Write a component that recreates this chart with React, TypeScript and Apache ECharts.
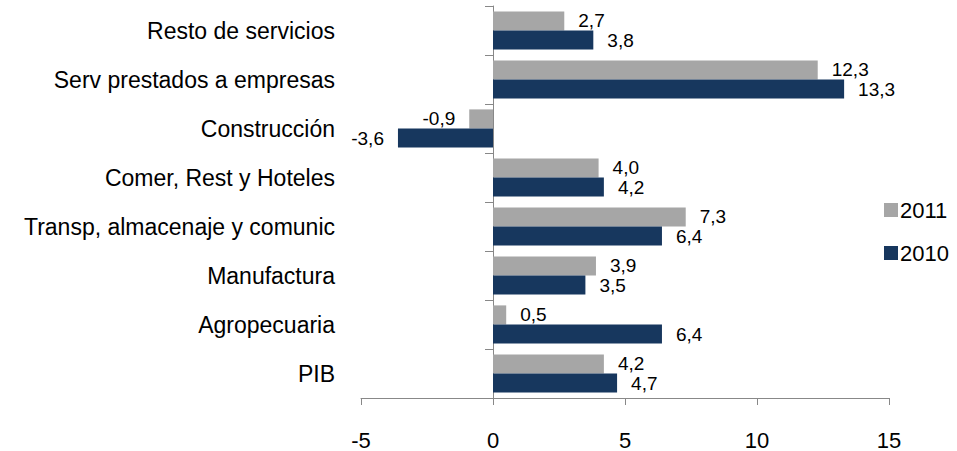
import React, { useEffect, useRef } from "react";
import * as echarts from "echarts";

const categories = [
  "PIB",
  "Agropecuaria",
  "Manufactura",
  "Transp, almacenaje y comunic",
  "Comer, Rest y Hoteles",
  "Construcción",
  "Serv prestados a empresas",
  "Resto de servicios",
];
const values2011 = [4.2, 0.5, 3.9, 7.3, 4.0, -0.9, 12.3, 2.7];
const values2010 = [4.7, 6.4, 3.5, 6.4, 4.2, -3.6, 13.3, 3.8];
const xTicks = { min: -5, max: 15, interval: 5 };

const FONT = "Liberation Sans";

const fmt = (v: number) => v.toFixed(1).replace(".", ",");

const toData = (arr: number[]) =>
  arr.map((v) => ({ value: v, label: v < 0 ? { position: "left" } : undefined }));

export default function App() {
  const ref = useRef<HTMLDivElement>(null);
  useEffect(() => {
    if (!ref.current) return;
    const chart = echarts.init(ref.current, undefined, { renderer: "svg" });
    const labelStyle = {
      show: true,
      position: "right",
      distance: 14,
      color: "#000",
      fontFamily: FONT,
      fontSize: 19,
      lineHeight: 18,
      formatter: (p: any) => fmt(p.value),
    };
    chart.setOption({
      animation: false,
      textStyle: { fontFamily: FONT },
      grid: {
        left: 361,
        right: 68,
        top: 6,
        bottom: 53,
        containLabel: false,
        outerBoundsMode: "none",
      },
      legend: {
        orient: "vertical",
        left: 879,
        top: 194,
        itemWidth: 14,
        itemHeight: 14,
        itemGap: 21,
        icon: "rect",
        data: ["2011", "2010"],
        textStyle: { fontFamily: FONT, fontSize: 22, color: "#000", padding: [0, 0, 0, -3] },
      },
      xAxis: {
        type: "value",
        min: xTicks.min,
        max: xTicks.max,
        interval: xTicks.interval,
        splitLine: { show: false },
        axisLine: { show: true, lineStyle: { color: "#888", width: 1 } },
        axisTick: { show: true, length: 7, lineStyle: { color: "#888" } },
        axisLabel: { color: "#000", fontFamily: FONT, fontSize: 22, margin: 31 },
      },
      yAxis: {
        type: "category",
        data: categories,
        axisLine: { show: true, onZero: true, lineStyle: { color: "#888", width: 1 } },
        axisTick: { show: true, length: 8, lineStyle: { color: "#888" } },
        axisLabel: { color: "#000", fontFamily: FONT, fontSize: 23, margin: 26 },
      },
      series: [
        {
          name: "2011",
          type: "bar",
          data: toData(values2011),
          itemStyle: { color: "#a6a6a6" },
          barGap: "0%",
          barCategoryGap: "22%",
          label: labelStyle,
        },
        {
          name: "2010",
          type: "bar",
          data: toData(values2010),
          itemStyle: { color: "#17375e" },
          barGap: "0%",
          barCategoryGap: "22%",
          label: labelStyle,
        },
      ],
    });
    return () => chart.dispose();
  }, []);
  return (
    <div
      ref={ref}
      style={{ width: 957, height: 451, position: "absolute", left: 0, top: 0 }}
    />
  );
}
